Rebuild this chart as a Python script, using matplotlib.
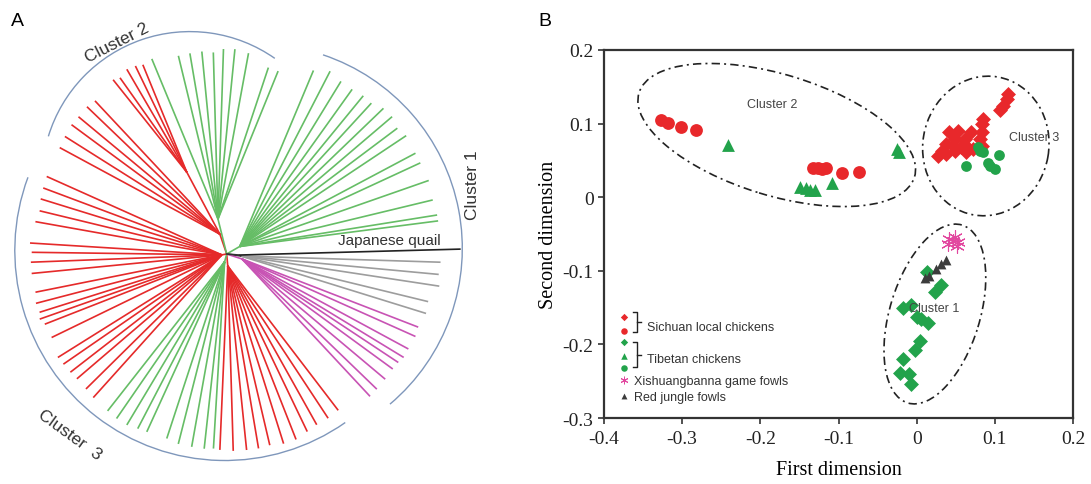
import numpy as np
import matplotlib
matplotlib.use('Agg')
import matplotlib.pyplot as plt
import matplotlib.transforms as mtransforms
from matplotlib.patches import Ellipse, Arc

plt.rcParams['axes.unicode_minus'] = False
plt.rcParams['font.family'] = 'Liberation Sans'

# ---------------- panel A: radial tree (angle in deg, branch length) ----------------
green_c1_ang = [64.7, 60.5, 56.5, 52.7, 49.2, 46.2, 42.9, 39.7, 36.4, 33.4, 28.1, 25.2, 20.0, 14.7, 10.5, 8.9]
green_c1_len = [203, 210, 207, 207, 209, 209, 214, 215, 212, 215, 214, 214, 215, 213, 214, 214]
quail_ang = [1.2]
quail_len = [234]
gray_ang = [-2.2, -5.5, -8.6, -13.3, -16.6]
gray_len = [214, 213, 215, 207, 208]
magenta_ang = [-20.9, -23.6, -27.6, -30.3, -32.3, -34.7, -38.3, -42.0, -44.8]
magenta_len = [205, 206, 205, 205, 203, 202, 202, 202, 202]
red_low_ang = [-54.5, -58.3, -62.2, -65.6, -69.5, -73.3, -77.3, -80.7, -84.2, -88.1, -92.0]
red_low_len = [192, 193, 193, 195, 198, 198, 196, 197, 197, 197, 196]
green_low_ang = [-93.9, -96.6, -100.3, -104.3, -108.0, -114.2, -117.0, -120.3, -123.8, -127.2]
green_low_len = [195, 196, 196, 196, 194, 195, 196, 198, 198, 197]
red_left_ang = [-132.9, -136.2, -140.2, -142.9, -146.0, -148.5, -154.5, -158.9, -160.8, -162.7, -165.5,
                -168.7, -174.3, -177.6, 179.5, 176.8, 170.4, 167.0, 163.5, 160.2, 156.7]
red_left_len = [196, 195, 195, 196, 197, 198, 194, 195, 198, 196, 197,
                195, 196, 196, 195, 197, 194, 192, 194, 195, 196]
red_a_ang = [147.5, 144.0, 140.2, 137.2, 133.5, 130.7]
red_a_len = [198, 200, 202, 202, 203, 202]
red_b_ang = [123.1, 121.2, 118.4, 115.9, 113.9]
red_b_len = [208, 206, 210, 209, 207]
green_c2_ang = [111.0, 103.7, 100.4, 97.0, 93.8, 90.9, 87.7, 83.8, 77.4, 74.3]
green_c2_len = [209, 204, 204, 204, 202, 205, 205, 202, 191, 190]

# ---------------- panel B: MDS scatter ----------------
sc_red_dia_x = [0.117, 0.115, 0.111, 0.106, 0.085, 0.083, 0.053, 0.042, 0.070, 0.083, 0.049, 0.062, 0.081,
                0.038, 0.046, 0.057, 0.065, 0.072, 0.032, 0.027, 0.038, 0.049, 0.063, 0.083]
sc_red_dia_y = [0.140, 0.133, 0.124, 0.118, 0.106, 0.099, 0.090, 0.088, 0.088, 0.088, 0.079, 0.079, 0.079,
                0.072, 0.070, 0.068, 0.068, 0.065, 0.063, 0.056, 0.059, 0.063, 0.061, 0.070]
sc_red_cir_x = [-0.327, -0.318, -0.302, -0.282, -0.133, -0.126, -0.121, -0.116, -0.095, -0.074]
sc_red_cir_y = [0.105, 0.101, 0.095, 0.091, 0.040, 0.040, 0.038, 0.040, 0.033, 0.034]
tib_dia_x = [0.013, 0.031, 0.023, -0.017, -0.007, 0.000, 0.006, 0.015, 0.004, -0.002, -0.017, -0.021, -0.010, -0.007]
tib_dia_y = [-0.101, -0.119, -0.129, -0.150, -0.147, -0.163, -0.165, -0.171, -0.195, -0.208, -0.220, -0.239, -0.240, -0.254]
tib_tri_x = [-0.241, -0.149, -0.142, -0.137, -0.130, -0.108, -0.025, -0.022]
tib_tri_y = [0.071, 0.014, 0.013, 0.010, 0.010, 0.019, 0.065, 0.061]
tib_cir_x = [0.079, 0.081, 0.085, 0.063, 0.091, 0.094, 0.100, 0.105]
tib_cir_y = [0.068, 0.063, 0.061, 0.042, 0.047, 0.042, 0.038, 0.057]
xsbn_x = [0.047, 0.042, 0.051, 0.040, 0.049, 0.053]
xsbn_y = [-0.059, -0.057, -0.066, -0.064, -0.054, -0.061]
rjf_x = [0.038, 0.031, 0.025, 0.016, 0.011]
rjf_y = [-0.085, -0.091, -0.098, -0.107, -0.110]

x_ticks = [-0.4, -0.3, -0.2, -0.1, 0, 0.1, 0.2]
x_ticklabels = ['-0.4', '-0.3', '-0.2', '-0.1', '0', '0.1', '0.2']
y_ticks = [-0.3, -0.2, -0.1, 0, 0.1, 0.2]
y_ticklabels = ['-0.3', '-0.2', '-0.1', '0', '0.1', '0.2']

RED = '#e8282b'
GREEN = '#22a34b'
T_RED = '#e52a2a'
T_GREEN = '#66bd66'
T_MAG = '#c853b4'
T_GRAY = '#9d9d9d'
ARC = '#7f97bb'

fig = plt.figure(figsize=(10.91, 4.85), dpi=100)


def polar(a, r):
    a = np.radians(np.asarray(a, dtype=float))
    return np.asarray(r) * np.cos(a), np.asarray(r) * np.sin(a)


# ---------- panel A ----------
axA = fig.add_axes([0, 0, 490 / 1091, 1])
axA.set_xlim(-226.7, 263.3)
axA.set_ylim(-230, 255)
axA.axis('off')

groups = [
    (green_c1_ang, green_c1_len, (30, 15), T_GREEN),
    (gray_ang, gray_len, (-8, 14), T_GRAY),
    (magenta_ang, magenta_len, (-18, 16), T_MAG),
    (red_low_ang, red_low_len, (-85, 12), T_RED),
    (green_low_ang, green_low_len, (-105, 8), T_GREEN),
    (red_left_ang, red_left_len, (-170, 5), T_RED),
    (red_a_ang, red_a_len, (109, 21), T_RED),
    (red_b_ang, red_b_len, (116, 91), T_RED),
    (green_c2_ang, green_c2_len, (104, 36), T_GREEN),
    (quail_ang, quail_len, (-5, 12), '#222222'),
]
for ang, ln, node, col in groups:
    nx, ny = polar(node[0], node[1])
    tx, ty = polar(ang, ln)
    for x1, y1 in zip(tx, ty):
        axA.plot([nx, x1], [ny, y1], color=col, lw=1.2, solid_capstyle='butt')
    if col == T_RED and node[1] > 50:
        sx, sy = polar(109, 21)
        axA.plot([sx, nx], [sy, ny], color=col, lw=1.2)
    else:
        axA.plot([0, nx], [0, ny], color='#333333' if col in (T_GRAY, '#222222') else col, lw=1.2)

# cluster brackets
axA.add_patch(Arc((31.6, 5.7), 408, 408, theta1=-49.8, theta2=71.5, color=ARC, lw=1))
axA.add_patch(Arc((-36.8, 74.4), 296, 296, theta1=55, theta2=163, color=ARC, lw=1))
axA.add_patch(Arc((-1.9, 3.5), 420, 420, theta1=159.6, theta2=305, color=ARC, lw=1))

axA.text(-109.7, 212, 'Cluster 2', rotation=27, fontsize=12.5, color='#333333', ha='center', va='center')
axA.text(246, 70, 'Cluster 1', rotation=90, fontsize=12.5, color='#333333', ha='center', va='center')
axA.text(-156.7, -180, 'Cluster  3', rotation=-36, fontsize=12.5, color='#333333', ha='center', va='center')
axA.text(162.3, 14, 'Japanese quail', fontsize=11, color='#333333', ha='center', va='center')

fig.text(17 / 1091, 1 - 22 / 485, 'A', fontsize=14, ha='center', va='center')
fig.text(545 / 1091, 1 - 22 / 485, 'B', fontsize=14, ha='center', va='center')

# ---------- panel B ----------
axB = fig.add_axes([604 / 1091, 1 - 419 / 485, 469 / 1091, 368 / 485])
axB.set_xlim(-0.4, 0.2)
axB.set_ylim(-0.3, 0.2)

axB.scatter(sc_red_dia_x, sc_red_dia_y, marker='D', s=58, color=RED, lw=0, zorder=3)
axB.scatter(sc_red_cir_x, sc_red_cir_y, marker='o', s=85, color=RED, lw=0, zorder=3)
axB.scatter(tib_dia_x, tib_dia_y, marker='D', s=58, color=GREEN, lw=0, zorder=3)
axB.scatter(tib_tri_x, tib_tri_y, marker='^', s=85, color=GREEN, lw=0, zorder=3)
axB.scatter(tib_cir_x, tib_cir_y, marker='o', s=60, color=GREEN, lw=0, zorder=4)
axB.scatter(xsbn_x, xsbn_y, marker=(6, 2, 0), s=100, color='#e2479f', lw=0.8, zorder=3)
axB.scatter(rjf_x, rjf_y, marker='^', s=50, color='#3c3c3c', lw=0, zorder=3)


def ring(cx, cy, w, h, ang):
    tr = fig.dpi_scale_trans + mtransforms.ScaledTranslation(cx, cy, axB.transData)
    axB.add_patch(Ellipse((0, 0), w, h, angle=ang, transform=tr, fill=False,
                          ls=(0, (5, 2.5, 1.2, 2.5)), lw=1.2, ec='#222222'))


ring(-0.179, 0.0845, 2.88, 1.21, -17)
ring(0.0885, 0.0696, 1.40, 1.26, 80)
ring(0.0233, -0.1587, 1.86, 0.90, 73)

axB.text(-0.185, 0.127, 'Cluster 2', fontsize=9, color='#444444', ha='center', va='center')
axB.text(0.150, 0.082, 'Cluster 3', fontsize=9, color='#444444', ha='center', va='center')
axB.text(0.023, -0.151, 'Cluster 1', fontsize=9, color='#444444', ha='center', va='center')

# hand-drawn legend
T = axB.transAxes
axB.scatter([0.0426], [0.274], marker='D', s=14, color=RED, lw=0, transform=T)
axB.scatter([0.0426], [0.237], marker='o', s=22, color=RED, lw=0, transform=T)
axB.scatter([0.0426], [0.206], marker='D', s=14, color=GREEN, lw=0, transform=T)
axB.scatter([0.0426], [0.168], marker='^', s=22, color=GREEN, lw=0, transform=T)
axB.scatter([0.0426], [0.135], marker='o', s=22, color=GREEN, lw=0, transform=T)
axB.scatter([0.0426], [0.104], marker=(6, 2, 0), s=25, color='#e2479f', lw=0.7, transform=T)
axB.scatter([0.0426], [0.059], marker='^', s=18, color='#3c3c3c', lw=0, transform=T)
for top, bot in [(0.287, 0.233), (0.206, 0.138)]:
    mid = (top + bot) / 2
    axB.plot([0.062, 0.071, 0.071, 0.062], [top, top, bot, bot], color='#222222', lw=1, transform=T)
    axB.plot([0.071, 0.078], [mid, mid], color='#222222', lw=1, transform=T)
axB.text(0.091, 0.248, 'Sichuan local chickens', fontsize=9, color='#333333', va='center', transform=T)
axB.text(0.091, 0.160, 'Tibetan chickens', fontsize=9, color='#333333', va='center', transform=T)
axB.text(0.065, 0.101, 'Xishuangbanna game fowls', fontsize=9, color='#333333', va='center', transform=T)
axB.text(0.065, 0.058, 'Red jungle fowls', fontsize=9, color='#333333', va='center', transform=T)

axB.set_xticks(x_ticks)
axB.set_xticklabels(x_ticklabels, fontfamily='Liberation Serif', fontsize=14)
axB.set_yticks(y_ticks)
axB.set_yticklabels(y_ticklabels, fontfamily='Liberation Serif', fontsize=14)
axB.tick_params(direction='out', length=4, width=1.2, color='#333333', labelcolor='#222222')
axB.tick_params(axis='x', pad=5)
for sp in axB.spines.values():
    sp.set_linewidth(1.6)
    sp.set_color('#333333')
axB.set_xlabel('First dimension', fontfamily='Liberation Serif', fontsize=14.5, labelpad=9)
axB.set_ylabel('Second dimension', fontfamily='Liberation Serif', fontsize=14.5, labelpad=3)

fig.savefig('out.png', dpi=100)
